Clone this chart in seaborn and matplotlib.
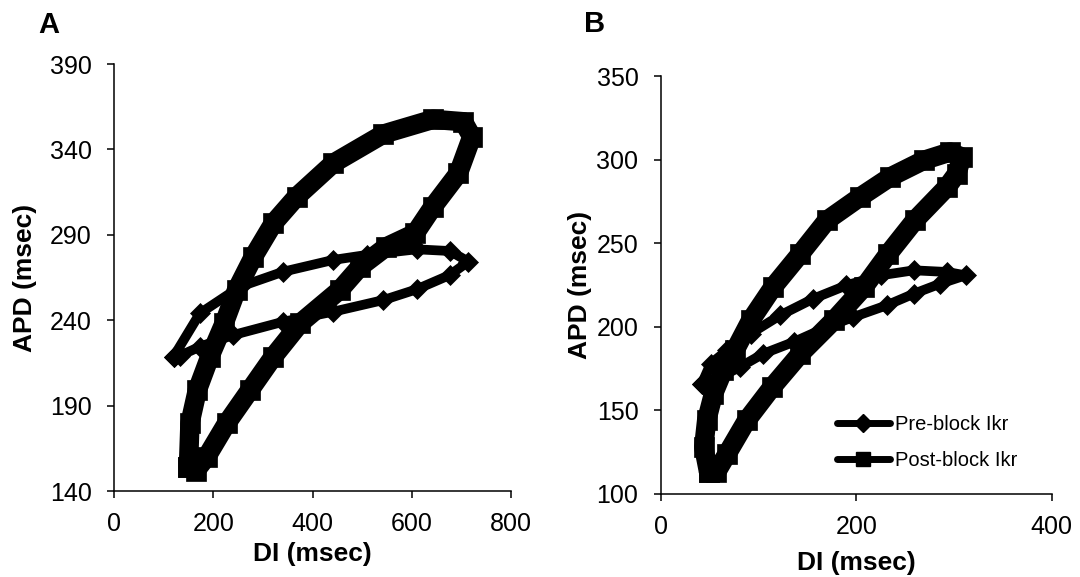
import numpy as np
import pandas as pd
import matplotlib
matplotlib.use("Agg")
import matplotlib.pyplot as plt
from matplotlib.lines import Line2D
import seaborn as sns

# ---------------- data ----------------
series_labels = ["Pre-block Ikr", "Post-block Ikr"]

# Panel A
a_pre_di = [120, 173, 254, 341, 442, 509, 610, 677, 714, 677, 610, 543, 442, 341, 240, 173, 133]
a_pre_apd = [218.6, 244.0, 259.6, 268.4, 275.3, 278.2, 281.5, 280.5, 274.3, 266.5, 258.1, 251.8, 245.0, 239.1, 231.3, 224.5, 219.2]

a_post_di = [150, 153, 168, 193, 222, 247, 281, 321, 368, 442, 543, 643, 704, 721, 694, 643, 607, 549, 496, 455, 375, 321, 274, 227, 187, 165]
a_post_apd = [154.2, 179.6, 199.1, 218.6, 238.2, 257.7, 277.2, 296.7, 312.3, 331.9, 349.0, 357.6, 356.2, 347.4, 326.0, 306.5, 290.9, 283.0, 271.3, 257.7, 238.2, 218.6, 199.1, 179.6, 160.1, 152.0]

# Panel B
b_pre_di = [42, 51, 68, 92, 122, 156, 190, 225, 259, 293, 312, 286, 259, 231, 197, 170, 136, 105, 81, 61]
b_pre_apd = [165.8, 177.8, 185.8, 195.8, 206.7, 216.7, 224.7, 230.7, 233.7, 232.7, 230.7, 225.7, 219.7, 212.7, 205.7, 199.7, 190.8, 183.8, 175.8, 169.8]

b_post_di = [49, 44, 47, 54, 64, 76, 92, 115, 143, 170, 204, 235, 269, 296, 308, 303, 293, 260, 233, 208, 177, 143, 114, 88, 68, 57]
b_post_apd = [112.9, 127.9, 143.9, 159.8, 173.8, 185.8, 203.7, 223.7, 243.7, 263.6, 277.6, 289.6, 299.5, 304.5, 301.5, 291.6, 283.6, 263.6, 243.7, 223.7, 203.7, 183.8, 163.8, 143.9, 123.9, 112.9]

a_xticks = [0, 200, 400, 600, 800]
a_yticks = [140, 190, 240, 290, 340, 390]
b_xticks = [0, 200, 400]
b_yticks = [100, 150, 200, 250, 300, 350]

x_label = "DI (msec)"
y_label = "APD (msec)"
panel_letters = ["A", "B"]

# ---------------- style ----------------
sns.set_theme(style="ticks")
plt.rcParams["font.family"] = ["Liberation Sans", "DejaVu Sans"]
plt.rcParams["text.color"] = "black"
plt.rcParams["axes.labelcolor"] = "black"
plt.rcParams["xtick.color"] = "black"
plt.rcParams["ytick.color"] = "black"
plt.rcParams["axes.edgecolor"] = "black"

W, H = 1080, 577
fig = plt.figure(figsize=(W / 100, H / 100), dpi=100)
axA = fig.add_axes([114 / W, 1 - 491 / H, 397 / W, 427 / H])
axB = fig.add_axes([660.7 / W, 1 - 493.7 / H, 391 / W, 417.7 / H])


def draw_loop(ax, x, y, marker, lw, ms, z):
    df = pd.DataFrame({"DI": list(x) + [x[0]], "APD": list(y) + [y[0]]})
    sns.lineplot(data=df, x="DI", y="APD", sort=False, estimator=None, ax=ax,
                 color="black", linewidth=lw, marker=marker, markersize=ms,
                 markeredgecolor="black", markerfacecolor="black",
                 markeredgewidth=0.5, solid_joinstyle="round",
                 solid_capstyle="round", legend=False, zorder=z)


draw_loop(axA, a_pre_di, a_pre_apd, "D", 7.0, 10.5, 3)
draw_loop(axA, a_post_di, a_post_apd, "s", 14, 14.5, 4)
draw_loop(axB, b_pre_di, b_pre_apd, "D", 7.0, 10.5, 3)
draw_loop(axB, b_post_di, b_post_apd, "s", 14, 14.5, 4)

for ax, xt, yt, ylc in [(axA, a_xticks, a_yticks, -0.193), (axB, b_xticks, b_yticks, -0.176)]:
    ax.set_xlim(xt[0], xt[-1])
    ax.set_ylim(yt[0], yt[-1])
    ax.set_xticks(xt)
    ax.set_yticks(yt)
    ax.set_xlabel(x_label, fontsize=19, fontweight="bold", color="black")
    ax.set_ylabel(y_label, fontsize=19, fontweight="bold", color="black")
    ax.yaxis.set_label_coords(ylc, 0.5)
    for s in ["top", "right"]:
        ax.spines[s].set_visible(False)
    for s in ["left", "bottom"]:
        ax.spines[s].set_linewidth(1.1)
        ax.spines[s].set_color("black")
    ax.tick_params(axis="both", direction="out", length=5, width=1.1,
                   colors="black", labelcolor="black", labelsize=18)
    ax.tick_params(axis="y", pad=11)
    ax.tick_params(axis="x", pad=10)
    ax.set_facecolor("white")

axA.xaxis.set_label_coords(0.5, -0.12)
axB.xaxis.set_label_coords(0.5, -0.138)

handles = [
    Line2D([], [], color="black", lw=5, marker="D", markersize=9, solid_capstyle="round"),
    Line2D([], [], color="black", lw=5, marker="s", markersize=9.5, solid_capstyle="round"),
]
leg = axB.legend(handles, series_labels, loc="upper left", bbox_to_anchor=(0.450, 0.189),
                 frameon=False, fontsize=14.5, handlelength=2.65, handletextpad=0.25,
                 labelspacing=0.88, borderpad=0, borderaxespad=0, numpoints=1)
for t in leg.get_texts():
    t.set_color("black")

fig.text(38 / W, 1 - 33 / H, panel_letters[0], fontsize=21, fontweight="bold",
         va="baseline", color="black")
fig.text(584 / W, 1 - 32 / H, panel_letters[1], fontsize=21, fontweight="bold",
         va="baseline", color="black")

fig.savefig("out.png", dpi=100, facecolor="white")
